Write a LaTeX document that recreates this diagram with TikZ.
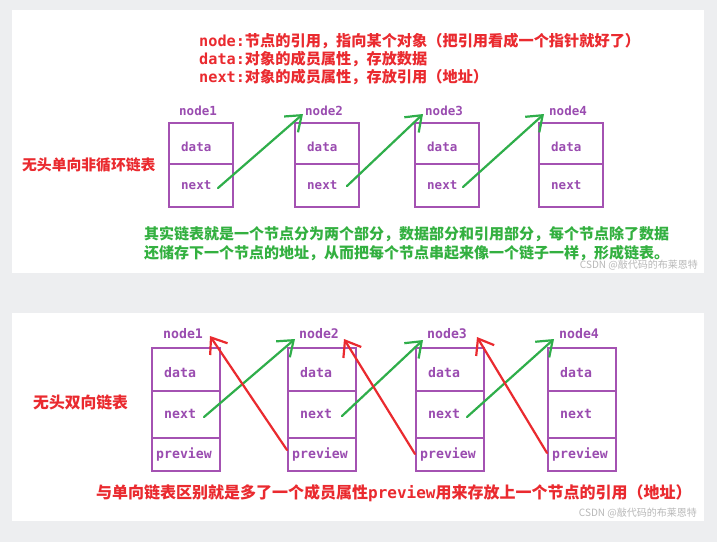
\documentclass[tikz,border=0pt]{standalone}
\usepackage{fontspec}
\setmainfont{Liberation Sans}
\newfontfamily\cjk{Noto Sans CJK SC}
\newfontfamily\mono{DejaVu Sans Mono}
\usetikzlibrary{arrows.meta}
\definecolor{bg}{HTML}{EDEEF0}
\definecolor{pur}{HTML}{A452B2}
\definecolor{ptext}{HTML}{9A4CB0}
\definecolor{grn}{HTML}{2FAE4A}
\definecolor{gtext}{HTML}{33B040}
\definecolor{rd}{HTML}{EA2A2F}
\definecolor{wm}{HTML}{B8B8B8}
\begin{document}
\begin{tikzpicture}[x=1pt,y=-1pt,
  cell/.style={draw=pur,line width=2.2pt,inner sep=0pt,anchor=north west},
  lbl/.style={text=ptext,inner sep=0pt,anchor=west,font=\mono\bfseries\fontsize{12.5}{14}\selectfont},
  lblb/.style={text=ptext,inner sep=0pt,anchor=west,font=\mono\bfseries\fontsize{13.2}{15}\selectfont},
  redtxt/.style={text=rd,inner sep=0pt,anchor=west,font=\cjk\bfseries\fontsize{15}{17}\selectfont},
  greentxt/.style={text=gtext,inner sep=0pt,anchor=west,font=\cjk\bfseries\fontsize{15}{17}\selectfont},
  wmark/.style={text=wm,inner sep=0pt,anchor=east,font=\cjk\fontsize{10}{12}\selectfont},
  garrow/.style={draw=grn,line width=2.2pt,line cap=round,line join=round,-{Straight Barb[length=14pt,width=21pt]}},
  rarrow/.style={draw=rd,line width=2.2pt,line cap=round,line join=round,-{Straight Barb[length=14pt,width=21pt]}}
]
\useasboundingbox[fill=bg] (0,0) rectangle (717,542);
\fill[white] (12,10) rectangle (704,273);
\fill[white] (12,313) rectangle (704,521);

% ---------- top panel ----------
\node[redtxt,font=\cjk\bfseries\fontsize{15.2}{17}\selectfont] (d1) at (199,41) {{\mono node:}节点的引用，指向某个对象（把引用看成一个指针就好了）};
\node[redtxt,font=\cjk\bfseries\fontsize{15.2}{17}\selectfont] (d2) at (199,59) {{\mono data:}对象的成员属性，存放数据};
\node[redtxt,font=\cjk\bfseries\fontsize{15.2}{17}\selectfont] (d3) at (199,77) {{\mono next:}对象的成员属性，存放引用（地址）};

\node[redtxt,font=\cjk\bfseries\fontsize{14.8}{17}\selectfont] (t0) at (22,165) {无头单向非循环链表};

\foreach \i/\x in {1/168,2/294,3/414,4/538}{
  \node[cell,minimum width=64pt,minimum height=41pt] (t\i d) at (\x,122) {};
  \node[cell,minimum width=64pt,minimum height=43pt] (t\i n) at (\x,163) {};
  \node[lbl] (t\i dt) at (\x+13,147) {data};
  \node[lbl] (t\i nt) at (\x+13,185) {next};
  \node[lbl] (t\i l) at (\x+11,111) {node\i};
}

\coordinate (a1s) at (218,188); \coordinate (a1e) at (303,114);
\coordinate (a2s) at (347,186); \coordinate (a2e) at (423,114);
\coordinate (a3s) at (463,187); \coordinate (a3e) at (544,114);
\draw[garrow] (a1s) -- (a1e);
\draw[garrow] (a2s) -- (a2e);
\draw[garrow] (a3s) -- (a3e);

\node[greentxt] (g1) at (144,234) {其实链表就是一个节点分为两个部分，数据部分和引用部分，每个节点除了数据};
\node[greentxt] (g2) at (144,253) {还储存下一个节点的地址，从而把每个节点串起来像一个链子一样，形成链表。};
\node[wmark] (w1) at (698,265) {CSDN @敲代码的布莱恩特};

% ---------- bottom panel ----------
\node[redtxt,font=\cjk\bfseries\fontsize{15.8}{18}\selectfont] (b0) at (33,402) {无头双向链表};

\foreach \i/\x in {1/151,2/287,3/415,4/547}{
  \node[cell,minimum width=68pt,minimum height=43pt] (b\i d) at (\x,347) {};
  \node[cell,minimum width=68pt,minimum height=47pt] (b\i n) at (\x,390) {};
  \node[cell,minimum width=68pt,minimum height=33pt] (b\i p) at (\x,437) {};
  \node[lblb] (b\i dt) at (\x+13,373) {data};
  \node[lblb] (b\i nt) at (\x+13,414) {next};
  \node[lblb] (b\i pt) at (\x+5,454) {preview};
  \node[lblb] (b\i l) at (\x+12,334) {node\i};
}

\coordinate (g1s) at (204,417); \coordinate (g1e) at (295,339);
\coordinate (g2s) at (342,416); \coordinate (g2e) at (423,340);
\coordinate (g3s) at (467,417); \coordinate (g3e) at (554,339);
\draw[garrow] (g1s) -- (g1e);
\draw[garrow] (g2s) -- (g2e);
\draw[garrow] (g3s) -- (g3e);

\coordinate (r1s) at (287,450); \coordinate (r1e) at (210,336);
\coordinate (r2s) at (415,454); \coordinate (r2e) at (344,339);
\coordinate (r3s) at (547,453); \coordinate (r3e) at (477,337);
\draw[rarrow] (r1s) -- (r1e);
\draw[rarrow] (r2s) -- (r2e);
\draw[rarrow] (r3s) -- (r3e);

\node[redtxt,font=\cjk\bfseries\fontsize{16}{18}\selectfont] (bt) at (96,493) {与单向链表区别就是多了一个成员属性{\mono preview}用来存放上一个节点的引用（地址）};
\node[wmark] (w2) at (697,513) {CSDN @敲代码的布莱恩特};
\end{tikzpicture}
\end{document}
